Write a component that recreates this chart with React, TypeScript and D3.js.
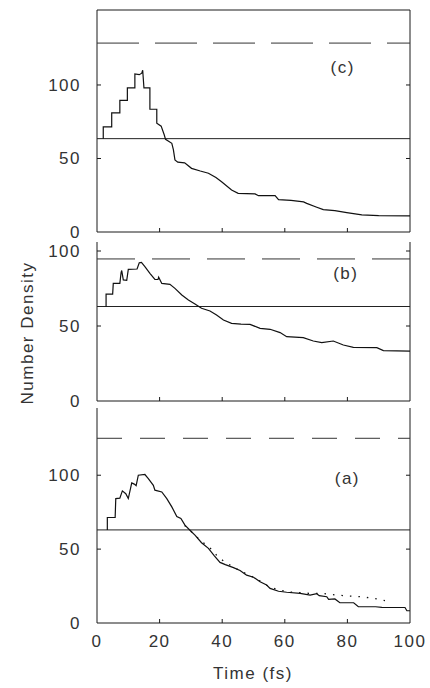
import React from "react";
import * as d3 from "d3";

const W = 430;
const H = 688;

// time (fs), number density
const seriesC: [number, number][] = [
  [2.0, 63.5], [2.0, 71.5], [4.7, 71.5], [4.7, 81], [7.3, 81], [7.3, 89.5], [9.7, 89.5], [9.7, 98],
  [12.1, 98], [12.1, 107.5], [13.5, 107], [14.3, 108], [14.6, 110], [15.0, 98], [16.9, 98], [16.9, 83.5],
  [19.1, 83.5], [19.1, 74], [20.5, 72], [21.5, 66], [21.9, 63], [23.9, 60.3], [24.4, 56], [24.9, 49],
  [25.8, 47.5], [28, 47], [30.2, 43.3], [33, 41.5], [35.6, 40], [38, 37], [39.8, 34.2], [43, 28.6],
  [45.1, 26.3], [50.5, 25.9], [51.6, 24.7], [56.9, 24.7], [58, 22], [62, 21.5], [66, 20.5], [67, 19.5],
  [70, 17], [72.3, 15.2], [76, 14.5], [79.8, 13.2], [84.6, 11.6], [90, 11.2], [100, 11],
];

const seriesB: [number, number][] = [
  [2.9, 62.9], [2.9, 71.3], [5, 71.3], [5.2, 78.4], [7.3, 78.4], [7.7, 85.6], [7.9, 87], [8.4, 80.7],
  [9.5, 80.5], [10, 87.8], [12.8, 88], [13.5, 92.2], [14.2, 92.4], [15.3, 89.6], [16.9, 85.1], [18.5, 81.1],
  [19.5, 81], [19.7, 82.5], [20.7, 78.4], [23.3, 77.8], [24.9, 75.1], [27.1, 70.7], [29.2, 67.3], [31.3, 64.7],
  [33.4, 61.8], [36.1, 60], [38.2, 57.3], [40.4, 54], [43, 51.8], [46, 51.2], [48.9, 51.1], [52.1, 48.4],
  [55.3, 47.8], [58.5, 45.6], [60.6, 42.9], [65.9, 42.2], [69.1, 40], [71.8, 38.9], [75.5, 40], [78.7, 37.3],
  [81.9, 35.8], [89.4, 35.6], [91.5, 33.6], [100, 33.3],
];

const seriesA: [number, number][] = [
  [3.3, 63], [3.3, 71.4], [5.8, 71.4], [6, 84.2], [7.3, 84.5], [8.1, 89.4], [9.2, 87.5], [10, 84.2],
  [11.1, 94.8], [11.9, 94], [12.5, 93], [13.2, 100], [15.3, 100.5], [16.4, 97.7], [18, 93.2], [18.5, 89.9],
  [20.7, 88.7], [22.3, 84.2], [23.9, 78.6], [25.5, 72], [26.8, 70.7], [28.1, 66.2], [29.7, 62.8], [31.3, 59.5],
  [33.4, 54.3], [35.6, 50.5], [37.5, 45.5], [39.3, 41], [41, 39.5], [43.6, 37.5], [45.7, 35.5], [47.8, 32.4],
  [50, 31], [52.1, 27.9], [54.2, 25.7], [55.3, 23.4], [58, 21.5], [60.6, 20.8], [64.9, 20], [68.1, 18.9],
  [70.2, 19.8], [71, 18.5], [73.4, 17.8], [74, 16], [76, 16.3], [77.6, 13.7], [82, 13.7], [83.5, 11],
  [89, 11], [91, 10.6], [98.4, 10.5], [99, 8.3], [100, 8.3],
];

const seriesADotted: [number, number][] = [
  [28, 66], [31, 60], [33.5, 55], [35.6, 52], [39, 44], [43, 38.5], [46, 35], [49, 32], [52, 28.5],
  [55, 24.5], [58, 22.5], [61, 21], [65, 20.5], [68, 20], [72, 20], [76, 19], [80, 18.3], [84, 17.8],
  [88, 16.8], [92, 15.2],
];

const panelNames = ["(c)", "(b)", "(a)"];
const dashedLevels = [128.5, 94.7, 125];
const solidLevels = [63.5, 63, 63];
const yMaxes = [151, 106, 145.5];
const xTicks = [0, 20, 40, 60, 80, 100];
const yTicks = [0, 50, 100];

const FONT = "'Liberation Sans', Arial, sans-serif";
const INK = "#1a1a1a";

type PanelProps = {
  top: number;
  bottom: number;
  yMax: number;
  name: string;
  nameAt: [number, number];
  dashed: number;
  dash: string;
  solid: number;
  curves: { data: [number, number][]; dotted?: boolean }[];
  boxTop?: boolean;
  xLabels?: boolean;
};

const x = d3.scaleLinear().domain([0, 100]).range([97, 410]);

function Panel(p: PanelProps) {
  const y = d3.scaleLinear().domain([0, p.yMax]).range([p.bottom, p.top]);
  const line = d3.line<[number, number]>().x(d => x(d[0])).y(d => y(d[1]));
  const [x0, x1] = x.range();
  const tick = 4;

  return (
    <g>
      {/* frame */}
      <line x1={x0} x2={x0} y1={p.top} y2={p.bottom} stroke={INK} strokeWidth={1} />
      <line x1={x1} x2={x1} y1={p.top} y2={p.bottom} stroke={INK} strokeWidth={1} />
      <line x1={x0} x2={x1} y1={p.bottom} y2={p.bottom} stroke={INK} strokeWidth={1} />
      {p.boxTop && <line x1={x0} x2={x1} y1={p.top} y2={p.top} stroke={INK} strokeWidth={1} />}

      {yTicks.filter(v => v > 0).map(v => (
        <g key={v}>
          <line x1={x0} x2={x0 + tick} y1={y(v)} y2={y(v)} stroke={INK} />
          <line x1={x1} x2={x1 - tick} y1={y(v)} y2={y(v)} stroke={INK} />
        </g>
      ))}
      {xTicks.slice(1, -1).map(t => (
        <line key={t} x1={x(t)} x2={x(t)} y1={p.bottom} y2={p.bottom - tick} stroke={INK} />
      ))}

      {yTicks.map(v => (
        <text key={v} x={81} y={y(v)} dy="0.35em" textAnchor="end" fontFamily={FONT}
          fontSize={17} letterSpacing={1.5} fill="#333">{v}</text>
      ))}
      {p.xLabels && xTicks.map(t => (
        <text key={t} x={x(t)} y={p.bottom + 24} textAnchor="middle" fontFamily={FONT}
          fontSize={17} letterSpacing={1.5} fill="#333">{t}</text>
      ))}

      <line x1={x0} x2={x1} y1={y(p.dashed)} y2={y(p.dashed)} stroke="#333" strokeWidth={1}
        strokeDasharray={p.dash} />
      <line x1={x0} x2={x1} y1={y(p.solid)} y2={y(p.solid)} stroke="#222" strokeWidth={1} />

      {p.curves.map((c, i) => (
        <path key={i} d={line(c.data) ?? ""} fill="none" stroke="#111"
          strokeWidth={c.dotted ? 1.3 : 1.2} strokeDasharray={c.dotted ? "1.5,7" : undefined} />
      ))}

      <text x={x(p.nameAt[0])} y={y(p.nameAt[1])} dy="0.35em" textAnchor="middle" fontFamily={FONT}
        fontSize={17} letterSpacing={1.5} fill="#333">{p.name}</text>
    </g>
  );
}

export default function App() {
  return (
    <svg width={W} height={H} style={{ position: "absolute", left: 0, top: 0, background: "#fff" }}>
      <Panel top={10} bottom={232} yMax={yMaxes[0]} name={panelNames[0]} nameAt={[78.5, 112]}
        dashed={dashedLevels[0]} dash="42,16" solid={solidLevels[0]} boxTop
        curves={[{ data: seriesC }]} />
      <Panel top={242} bottom={401} yMax={yMaxes[1]} name={panelNames[1]} nameAt={[79.5, 85]}
        dashed={dashedLevels[1]} dash="38,17" solid={solidLevels[1]}
        curves={[{ data: seriesB }]} />
      <Panel top={408} bottom={623} yMax={yMaxes[2]} name={panelNames[2]} nameAt={[80, 98]}
        dashed={dashedLevels[2]} dash="25,18" solid={solidLevels[2]} xLabels
        curves={[{ data: seriesA }, { data: seriesADotted, dotted: true }]} />

      <text x={253} y={679} textAnchor="middle" fontFamily={FONT} fontSize={17} letterSpacing={1.5}
        fill="#333">Time (fs)</text>
      <text transform="translate(33,333) rotate(-90)" textAnchor="middle" fontFamily={FONT}
        fontSize={17} letterSpacing={1.5} fill="#333">Number Density</text>
    </svg>
  );
}
